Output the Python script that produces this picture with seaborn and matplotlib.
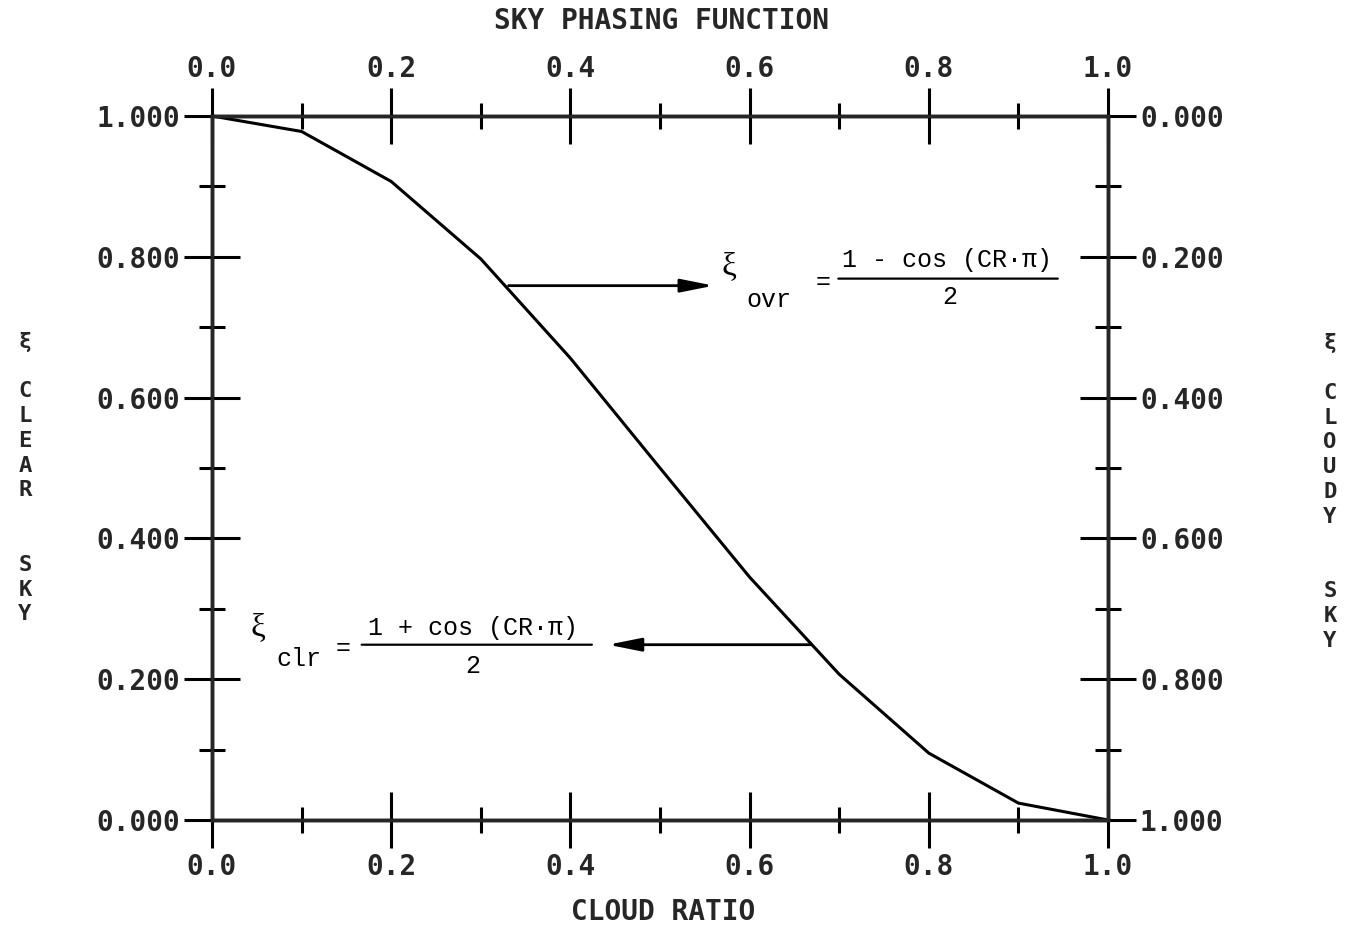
import matplotlib
matplotlib.use("Agg")
import matplotlib.pyplot as plt
import seaborn as sns
import pandas as pd
from matplotlib.ticker import MultipleLocator

# ---- data ----
cloud_ratio = [0.0, 0.1, 0.2, 0.3, 0.4, 0.5, 0.6, 0.7, 0.8, 0.9, 1.0]
clear_sky = [1.000, 0.978, 0.907, 0.797, 0.656, 0.500, 0.345, 0.207, 0.095, 0.024, 0.000]

x_ticks = [0.0, 0.2, 0.4, 0.6, 0.8, 1.0]
x_tick_labels = ["0.0", "0.2", "0.4", "0.6", "0.8", "1.0"]
y_ticks = [0.0, 0.2, 0.4, 0.6, 0.8, 1.0]
left_tick_labels = ["0.000", "0.200", "0.400", "0.600", "0.800", "1.000"]
right_tick_labels = ["0.000", "0.200", "0.400", "0.600", "0.800", "1.000"]

title_text = "SKY PHASING FUNCTION"
xlabel_text = "CLOUD RATIO"
left_label = ["ξ", "", "C", "L", "E", "A", "R", "", "", "S", "K", "Y"]
right_label = ["ξ", "", "C", "L", "O", "U", "D", "Y", "", "", "S", "K", "Y"]

sns.set_style("white")
plt.rcParams["font.family"] = ["DejaVu Sans Mono"]

W, H = 1353, 931
fig = plt.figure(figsize=(W / 100, H / 100), dpi=100)
ax = fig.add_axes([212 / W, 1 - 820 / H, 896 / W, 704 / H])

df = pd.DataFrame({"CR": cloud_ratio, "clr": clear_sky})
sns.lineplot(data=df, x="CR", y="clr", ax=ax, color="black", lw=2.2,
             clip_on=False, zorder=5)

ax.set_xlim(0, 1)
ax.set_ylim(0, 1)
ax.set_xlabel("")
ax.set_ylabel("")
for s in ax.spines.values():
    s.set_linewidth(2.4)
    s.set_color("black")

LW = 2.2
ax.set_xticks(x_ticks)
ax.set_xticklabels(x_tick_labels)
ax.set_yticks(y_ticks)
ax.set_yticklabels(left_tick_labels)
ax.xaxis.set_minor_locator(MultipleLocator(0.1))
ax.yaxis.set_minor_locator(MultipleLocator(0.1))
ax.tick_params(which="major", direction="inout", length=40, width=LW,
               color="black", labelsize=20, top=False, right=False)
ax.tick_params(which="minor", direction="inout", length=19, width=LW,
               color="black", top=False, right=False)
ax.tick_params(axis="x", which="major", pad=4)
ax.tick_params(axis="y", which="major", pad=3)
for lab in ax.get_xticklabels() + ax.get_yticklabels():
    lab.set_fontweight("bold")

# right axis (cloudy sky, inverted)
ax2 = ax.twinx()
ax2.set_ylim(1, 0)
ax2.set_yticks(y_ticks)
ax2.set_yticklabels(right_tick_labels)
ax2.yaxis.set_minor_locator(MultipleLocator(0.1))
ax2.tick_params(which="major", direction="inout", length=40, width=LW,
                color="black", labelsize=20, pad=3, left=False, right=True)
ax2.tick_params(which="minor", direction="inout", length=19, width=LW,
                color="black", left=False, right=True)
for lab in ax2.get_yticklabels():
    lab.set_fontweight("bold")
for s in ax2.spines.values():
    s.set_linewidth(2.4)

# top axis
ax3 = ax.twiny()
ax3.set_xlim(0, 1)
ax3.set_xticks(x_ticks)
ax3.set_xticklabels(x_tick_labels)
ax3.xaxis.set_minor_locator(MultipleLocator(0.1))
ax3.tick_params(which="major", direction="inout", length=40, width=LW,
                color="black", labelsize=20, pad=4, bottom=False, top=True)
ax3.tick_params(which="minor", direction="inout", length=19, width=LW,
                color="black", bottom=False, top=True)
for lab in ax3.get_xticklabels():
    lab.set_fontweight("bold")
for s in ax3.spines.values():
    s.set_linewidth(2.4)

# ---- annotations ----
eq_font = dict(family=["Liberation Mono", "DejaVu Serif"], fontsize=18, color="black")
xi_font = dict(family=["Liberation Serif", "DejaVu Serif"], fontsize=24, color="black")
arrow_props = dict(arrowstyle="-|>,head_length=1.0,head_width=0.2", lw=2.0,
                   color="black", shrinkA=0, shrinkB=0, mutation_scale=20)
line_props = dict(arrowstyle="-", lw=1.6, color="black", shrinkA=0, shrinkB=0)

# overcast equation
ax.annotate("", xy=(0.560, 0.759), xytext=(0.331, 0.759), arrowprops=arrow_props)
ax.text(0.577, 0.786, "ξ", ha="center", va="center", **xi_font)
ax.text(0.622, 0.738, "ovr", ha="center", va="center", **eq_font)
ax.text(0.682, 0.764, "=", ha="center", va="center", **eq_font)
ax.text(0.820, 0.795, "1 - cos (CR·π)", ha="center", va="center", **eq_font)
ax.annotate("", xy=(0.944, 0.769), xytext=(0.699, 0.769), arrowprops=line_props)
ax.text(0.823, 0.743, "2", ha="center", va="center", **eq_font)

# clear equation
ax.annotate("", xy=(0.442, 0.249), xytext=(0.669, 0.249), arrowprops=arrow_props)
ax.text(0.051, 0.273, "ξ", ha="center", va="center", **xi_font)
ax.text(0.097, 0.228, "clr", ha="center", va="center", **eq_font)
ax.text(0.146, 0.244, "=", ha="center", va="center", **eq_font)
ax.text(0.291, 0.273, "1 + cos (CR·π)", ha="center", va="center", **eq_font)
ax.annotate("", xy=(0.424, 0.249), xytext=(0.167, 0.249), arrowprops=line_props)
ax.text(0.291, 0.219, "2", ha="center", va="center", **eq_font)

# ---- titles / labels ----
fig.text(662 / W, 1 - 21 / H, title_text, ha="center", va="center",
         fontsize=20, fontweight="bold")
fig.text(663 / W, 1 - 912 / H, xlabel_text, ha="center", va="center",
         fontsize=20, fontweight="bold")
fig.text(25 / W, 1 - 478 / H, "\n".join(left_label), ha="center", va="center",
         fontsize=16, fontweight="bold", linespacing=1.3)
fig.text(1330 / W, 1 - 492 / H, "\n".join(right_label), ha="center", va="center",
         fontsize=16, fontweight="bold", linespacing=1.3)

fig.savefig("out.png", dpi=100, facecolor="white")
